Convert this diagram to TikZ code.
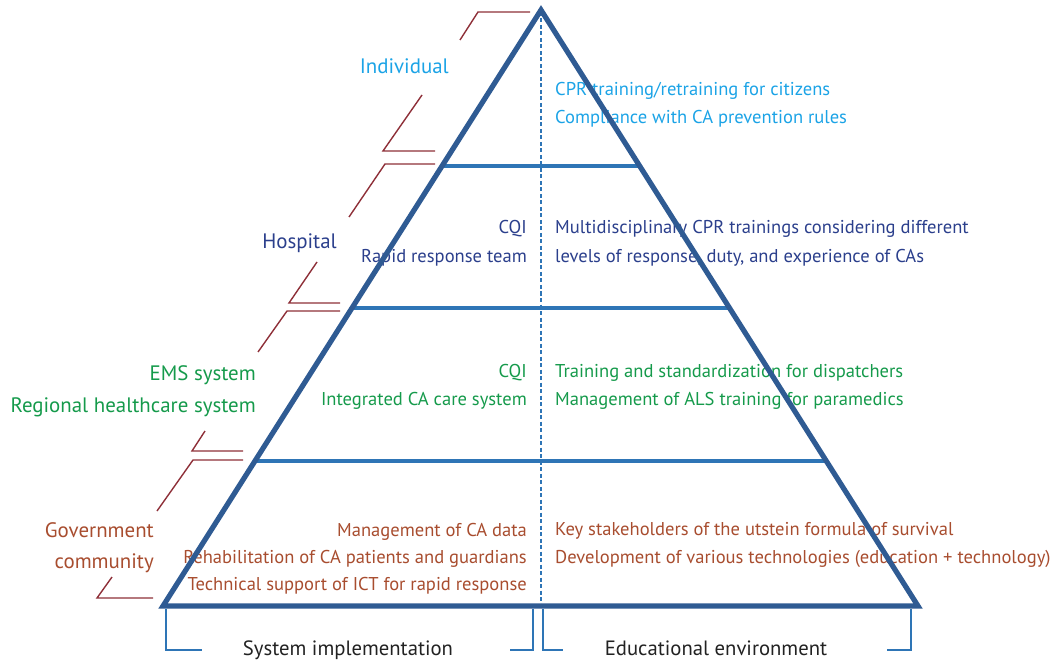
\documentclass[tikz,border=0pt]{standalone}
\usepackage{fontspec}
\setmainfont{PT Sans}
\definecolor{edgeblue}{HTML}{2F5B93}
\definecolor{tierblue}{HTML}{2E75B6}
\definecolor{bracketred}{HTML}{8E2F38}
\definecolor{cyantext}{HTML}{1BA3E6}
\definecolor{navytext}{HTML}{2B3F8C}
\definecolor{greentext}{HTML}{159A4B}
\definecolor{browntext}{HTML}{A84D2F}
\definecolor{labelgray}{HTML}{222222}
\begin{document}
\begin{tikzpicture}[x=1pt,y=-1pt,
  body/.style={inner sep=0pt,font=\fontsize{18.55}{20}\selectfont},
  lbl/.style={inner sep=0pt,font=\fontsize{20.9}{24}\selectfont},
  foot/.style={inner sep=0pt,font=\fontsize{20.7}{24}\selectfont,text=labelgray},
  rtext/.style={body,anchor=base east},
  ltext/.style={body,anchor=base west},
  edge/.style={draw=edgeblue,line width=5.2pt,line join=miter},
  tier/.style={draw=tierblue,line width=4pt},
  axis/.style={draw=tierblue,line width=1.6pt,dash pattern=on 4pt off 2.5pt},
  bracket/.style={draw=bracketred,line width=1.4pt},
  footbracket/.style={draw=tierblue,line width=1.4pt}]
\useasboundingbox (0,0) rectangle (1054,660);

% corner points of the pyramid and its tier boundaries
\coordinate (apex) at (541,10);
\coordinate (bl) at (163,606);
\coordinate (br) at (918,606);
\coordinate (t1l) at (442,166); \coordinate (t1r) at (640,166);
\coordinate (t2l) at (352,308); \coordinate (t2r) at (730,308);
\coordinate (t3l) at (255,461); \coordinate (t3r) at (826,461);
\coordinate (axtop) at (541,12);
\coordinate (axbot) at (541,606);

% tier texts, left column (system implementation)
\node[rtext,text=navytext] (cqia) at (527,234) {CQI};
\node[rtext,text=navytext] (rrt) at (527,262) {Rapid response team};
\node[rtext,text=greentext] (cqib) at (527,377) {CQI};
\node[rtext,text=greentext] (icare) at (527,405) {Integrated CA care system};
\node[rtext,text=browntext] (mdata) at (527,536) {Management of CA data};
\node[rtext,text=browntext] (rehab) at (527,563) {Rehabilitation of CA patients and guardians};
\node[rtext,text=browntext] (ict) at (527,590) {Technical support of ICT for rapid response};

% tier texts, right column (educational environment)
\node[ltext,text=cyantext] (cpr) at (555,96) {CPR training/retraining for citizens};
\node[ltext,text=cyantext] (comp) at (555,124) {Compliance with CA prevention rules};
\node[ltext,text=navytext] (multi) at (555,234) {Multidisciplinary CPR trainings considering different};
\node[ltext,text=navytext] (levels) at (555,262) {levels of response, duty, and experience of CAs};
\node[ltext,text=greentext] (disp) at (555,377) {Training and standardization for dispatchers};
\node[ltext,text=greentext] (als) at (555,405) {Management of ALS training for paramedics};
\node[ltext,text=browntext] (keys) at (555,535) {Key stakeholders of the utstein formula of survival};
\node[ltext,text=browntext] (dev) at (555,563) {Development of various technologies (education + technology)};

% level labels
\node[lbl,anchor=base east,text=cyantext] (indiv) at (449,74) {Individual};
\node[lbl,anchor=base east,text=navytext] (hosp) at (337,249) {Hospital};
\node[lbl,anchor=base east,text=greentext] (ems) at (256,380) {EMS system};
\node[lbl,anchor=base east,text=greentext] (reg) at (256,412) {Regional healthcare system};
\node[lbl,anchor=base east,text=browntext] (gov) at (154,537) {Government};
\node[lbl,anchor=base east,text=browntext] (comm) at (154,568) {community};

% footer labels
\node[foot,anchor=base] (sysimp) at (348,655) {System implementation};
\node[foot,anchor=base] (eduenv) at (716,655) {Educational environment};

% dashed centre axis
\draw[axis] (axtop) -- (axbot);

% tier boundaries
\draw[tier] (t1l) -- (t1r);
\draw[tier] (t2l) -- (t2r);
\draw[tier] (t3l) -- (t3r);

% pyramid outline
\draw[edge] (apex) -- (bl) -- (br) -- cycle;

% red brackets along the left side
\draw[bracket] (530,12) -- (478,12) -- (460,40);
\draw[bracket] (422,95) -- (383,151) -- (435,151);
\draw[bracket] (435,164) -- (385,164) -- (349,217);
\draw[bracket] (317,262) -- (289,303) -- (340,303);
\draw[bracket] (340,311) -- (287,311) -- (258,352);
\draw[bracket] (205,431) -- (192,451) -- (243,451);
\draw[bracket] (243,460) -- (193,460) -- (157,511);
\draw[bracket] (112,577) -- (97,598) -- (153,598);

% blue brackets under the base
\draw[footbracket] (166,609) -- (166,650) -- (202,650);
\draw[footbracket] (533,609) -- (533,650) -- (510,650);
\draw[footbracket] (543,609) -- (543,650) -- (563,650);
\draw[footbracket] (911,609) -- (911,650) -- (887,650);
\end{tikzpicture}
\end{document}
